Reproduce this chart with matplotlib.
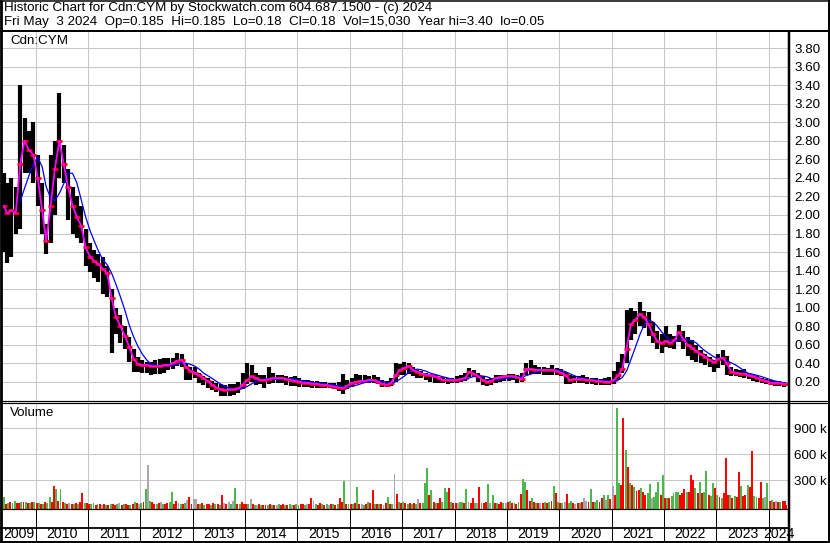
import datetime as dt
import numpy as np
import pandas as pd
import matplotlib
matplotlib.use("Agg")
import matplotlib.pyplot as plt
import matplotlib.dates as mdates
from matplotlib.lines import Line2D

plt.rcParams['font.family'] = ['Liberation Sans', 'DejaVu Sans']

# ---------------- data (monthly, May 2009 .. May 2024) ----------------
FIRST_MONTH = "2009-05-01"
HIGH = [
    2.45, 2.35, 2.40, 2.30, 3.40, 3.05, 2.90, 3.00,                          # 2009
    2.65, 2.35, 1.90, 2.65, 2.80, 3.31, 2.75, 2.50, 2.30, 2.20, 2.10, 1.85,  # 2010
    1.70, 1.62, 1.58, 1.55, 1.45, 1.20, 1.00, 0.92, 0.80, 0.68, 0.55, 0.47,  # 2011
    0.44, 0.42, 0.42, 0.44, 0.45, 0.46, 0.46, 0.46, 0.51, 0.50, 0.40, 0.36,  # 2012
    0.36, 0.30, 0.26, 0.24, 0.21, 0.19, 0.18, 0.17, 0.18, 0.18, 0.20, 0.30,  # 2013
    0.40, 0.38, 0.30, 0.28, 0.28, 0.36, 0.30, 0.28, 0.28, 0.26, 0.25, 0.26,  # 2014
    0.24, 0.22, 0.22, 0.21, 0.21, 0.20, 0.20, 0.19, 0.19, 0.20, 0.29, 0.22,  # 2015
    0.24, 0.29, 0.27, 0.27, 0.26, 0.28, 0.25, 0.22, 0.21, 0.24, 0.40, 0.39,  # 2016
    0.42, 0.40, 0.36, 0.33, 0.32, 0.30, 0.28, 0.27, 0.25, 0.25, 0.24, 0.24,  # 2017
    0.26, 0.28, 0.30, 0.35, 0.33, 0.30, 0.26, 0.23, 0.24, 0.27, 0.28, 0.28,  # 2018
    0.29, 0.29, 0.28, 0.30, 0.40, 0.44, 0.38, 0.36, 0.36, 0.35, 0.38, 0.35,  # 2019
    0.34, 0.31, 0.27, 0.26, 0.26, 0.27, 0.25, 0.24, 0.24, 0.23, 0.24, 0.25,  # 2020
    0.32, 0.42, 0.50, 0.98, 1.00, 0.96, 1.06, 0.97, 0.95, 0.85, 0.75, 0.72,  # 2021
    0.80, 0.72, 0.70, 0.81, 0.75, 0.68, 0.65, 0.60, 0.54, 0.50, 0.47, 0.44,  # 2022
    0.50, 0.54, 0.48, 0.36, 0.34, 0.33, 0.34, 0.30, 0.28, 0.26, 0.24, 0.23,  # 2023
    0.22, 0.21, 0.21, 0.20, 0.185,                                           # 2024
]
LOW = [
    1.60, 1.48, 1.55, 1.80, 1.85, 2.45, 2.45, 2.35,
    2.10, 1.80, 1.58, 1.70, 2.00, 2.40, 2.35, 1.95, 1.80, 1.75, 1.70, 1.45,
    1.38, 1.32, 1.28, 1.15, 1.12, 0.51, 0.72, 0.62, 0.55, 0.42, 0.31, 0.31,
    0.30, 0.30, 0.28, 0.29, 0.29, 0.30, 0.33, 0.34, 0.37, 0.36, 0.22, 0.22,
    0.24, 0.19, 0.17, 0.14, 0.11, 0.09, 0.05, 0.05, 0.05, 0.06, 0.08, 0.12,
    0.18, 0.20, 0.17, 0.18, 0.14, 0.18, 0.19, 0.19, 0.19, 0.17, 0.16, 0.16,
    0.15, 0.15, 0.15, 0.14, 0.14, 0.13, 0.13, 0.13, 0.12, 0.10, 0.07, 0.12,
    0.15, 0.18, 0.19, 0.19, 0.19, 0.19, 0.18, 0.15, 0.15, 0.16, 0.20, 0.28,
    0.28, 0.29, 0.26, 0.24, 0.24, 0.22, 0.20, 0.19, 0.19, 0.19, 0.18, 0.19,
    0.19, 0.20, 0.21, 0.25, 0.25, 0.20, 0.17, 0.16, 0.17, 0.19, 0.20, 0.21,
    0.21, 0.22, 0.19, 0.20, 0.27, 0.29, 0.29, 0.29, 0.28, 0.28, 0.28, 0.27,
    0.26, 0.18, 0.18, 0.19, 0.19, 0.19, 0.18, 0.18, 0.17, 0.17, 0.17, 0.17,
    0.18, 0.22, 0.30, 0.40, 0.65, 0.72, 0.80, 0.78, 0.70, 0.62, 0.55, 0.51,
    0.58, 0.57, 0.56, 0.63, 0.55, 0.48, 0.44, 0.42, 0.40, 0.38, 0.36, 0.31,
    0.35, 0.38, 0.27, 0.26, 0.26, 0.25, 0.24, 0.23, 0.21, 0.20, 0.19, 0.18,
    0.17, 0.16, 0.16, 0.15, 0.18,
]
CLOSE = [
    2.10, 2.02, 2.05, 2.02, 2.55, 2.80, 2.70, 2.65,
    2.40, 2.05, 1.72, 2.10, 2.50, 2.80, 2.55, 2.30, 2.10, 1.98, 1.88, 1.65,
    1.55, 1.50, 1.47, 1.42, 1.37, 1.10, 0.90, 0.80, 0.70, 0.58, 0.45, 0.39,
    0.38, 0.38, 0.37, 0.37, 0.37, 0.38, 0.38, 0.40, 0.43, 0.44, 0.36, 0.32,
    0.30, 0.27, 0.24, 0.21, 0.17, 0.14, 0.12, 0.11, 0.12, 0.12, 0.13, 0.17,
    0.22, 0.26, 0.24, 0.22, 0.22, 0.23, 0.24, 0.24, 0.24, 0.23, 0.22, 0.21,
    0.20, 0.19, 0.19, 0.18, 0.18, 0.17, 0.17, 0.16, 0.15, 0.14, 0.13, 0.16,
    0.19, 0.20, 0.21, 0.21, 0.22, 0.22, 0.20, 0.18, 0.17, 0.19, 0.27, 0.33,
    0.35, 0.37, 0.33, 0.31, 0.29, 0.28, 0.27, 0.26, 0.24, 0.22, 0.22, 0.22,
    0.22, 0.23, 0.24, 0.31, 0.29, 0.26, 0.22, 0.20, 0.21, 0.24, 0.25, 0.26,
    0.26, 0.26, 0.25, 0.23, 0.34, 0.34, 0.33, 0.33, 0.33, 0.33, 0.33, 0.32,
    0.30, 0.27, 0.22, 0.23, 0.23, 0.23, 0.22, 0.22, 0.21, 0.21, 0.20, 0.20,
    0.22, 0.27, 0.34, 0.56, 0.82, 0.87, 0.93, 0.90, 0.82, 0.72, 0.64, 0.62,
    0.64, 0.62, 0.65, 0.74, 0.66, 0.60, 0.57, 0.53, 0.50, 0.47, 0.44, 0.41,
    0.45, 0.46, 0.40, 0.31, 0.30, 0.29, 0.29, 0.27, 0.26, 0.24, 0.22, 0.21,
    0.19, 0.19, 0.19, 0.18, 0.18,
]
MA_LONG_MONTHS = 5

# volume, half-month bins, thousands of shares; colour code g=up r=down n=unchanged
VOL_2009 = [110, 30, 40, 55, 35, 60, 40, 35, 50, 45, 55, 40, 35, 50, 45]
COL_2009 = "grgrggrrgrgrgrg"
VOL_2010 = [35, 40, 25, 30, 45, 40, 110, 50, 238, 200, 62, 200, 45, 35, 30, 40, 25, 30, 35, 25, 45, 158, 40, 35]
COL_2010 = "rgrgrggrrgrgrgrnrgrgrrgr"
VOL_2011 = [30, 25, 35, 20, 25, 30, 20, 25, 15, 20, 30, 25, 20, 25, 35, 20, 25, 30, 20, 15, 25, 54, 35, 30]
COL_2011 = "rggrgrnrgrgrrgnrgrrgrgrn"
VOL_2012 = [35, 45, 200, 477, 60, 54, 30, 25, 35, 54, 30, 25, 35, 46, 165, 30, 62, 35, 25, 30, 40, 73, 108, 30]
COL_2012 = "grgngrrgrngrrggrrngrgnrr"
VOL_2013 = [85, 85, 30, 25, 35, 20, 30, 25, 20, 35, 25, 30, 20, 130, 35, 30, 54, 30, 62, 211, 30, 25, 54, 30]
COL_2013 = "nnrgrgrrgrgrgrnrngngrgrr"
VOL_2014 = [30, 25, 85, 25, 20, 15, 25, 20, 15, 20, 15, 25, 20, 15, 20, 25, 20, 27, 15, 20, 25, 15, 20, 25]
COL_2014 = "rgnrgnrgrrgrgrngrrgrgnrg"
VOL_2015 = [20, 25, 30, 20, 25, 30, 96, 62, 25, 20, 42, 25, 20, 27, 20, 25, 30, 20, 25, 96, 54, 292, 30, 25]
COL_2015 = "grrgnrrngrrgrgnrgrgrrgrg"
VOL_2016 = [30, 25, 35, 223, 30, 25, 20, 30, 54, 35, 188, 30, 27, 25, 30, 20, 35, 108, 30, 25, 377, 142, 46, 35]
COL_2016 = "rgrgrngrgrrgrgrnrgrgnrgr"
VOL_2017 = [54, 35, 30, 40, 25, 35, 30, 85, 40, 35, 269, 446, 130, 188, 50, 40, 35, 92, 45, 208, 170, 208, 50, 40]
COL_2017 = "grgrgrgnrgggrgrgrrgggrgr"
VOL_2018 = [40, 35, 45, 54, 40, 200, 45, 35, 92, 40, 35, 227, 40, 35, 45, 254, 40, 130, 35, 40, 30, 54, 35, 40]
COL_2018 = "rnggrgnrrgnrgrrgngrgrrgn"
VOL_2019 = [45, 62, 35, 40, 30, 45, 138, 315, 277, 188, 60, 92, 45, 40, 35, 40, 35, 45, 40, 50, 60, 235, 150, 50]
COL_2019 = "rgrgrgrggrrgrgrnrgrgrgrg"
VOL_2020 = [40, 35, 45, 138, 40, 62, 35, 30, 40, 35, 45, 92, 62, 50, 200, 45, 50, 73, 55, 92, 130, 70, 130, 80]
COL_2020 = "rgnrggrnrgrnnrgrggrrgngr"
VOL_2021 = [235, 130, 1138, 265, 246, 1023, 650, 458, 265, 246, 227, 180, 188, 208, 170, 130, 150, 254, 92, 110, 170, 277, 130, 362]
COL_2021 = "nrggrrgrgrgrrgrrggngggrg"
VOL_2022 = [100, 92, 90, 120, 150, 170, 170, 130, 150, 200, 160, 170, 362, 304, 208, 150, 277, 150, 170, 408, 130, 120, 265, 208]
COL_2022 = "rgrggggrrrgrrrgrgrggrggr"
VOL_2023 = [130, 110, 100, 150, 562, 130, 130, 100, 120, 110, 400, 238, 120, 130, 246, 227, 638, 120, 110, 100, 285, 100, 110, 265]
COL_2023 = "grgrrrgrgrrgrrgrrggrrgng"
VOL_2024 = [60, 70, 55, 65, 50, 45, 60, 62, 20]
COL_2024 = "rgrnrgrrr"

PRICE_TICKS = [0.20, 0.40, 0.60, 0.80, 1.00, 1.20, 1.40, 1.60, 1.80, 2.00,
               2.20, 2.40, 2.60, 2.80, 3.00, 3.20, 3.40, 3.60, 3.80]
VOL_TICKS = [300, 600, 900]
YEARS = list(range(2009, 2025))

TITLE1 = "Historic Chart for Cdn:CYM by Stockwatch.com 604.687.1500 - (c) 2024"
TITLE2 = ("Fri May  3 2024  Op=0.185  Hi=0.185  Lo=0.18  Cl=0.18  Vol=15,030  "
          "Year hi=3.40  lo=0.05")

# ---------------- build dates ----------------
months = pd.date_range(FIRST_MONTH, periods=len(CLOSE), freq="MS")
mdates_list = [m + pd.Timedelta(days=14) for m in months]
mdates_list[0] = months[0] + pd.Timedelta(days=23)
mdates_list[-1] = months[-1] + pd.Timedelta(days=1)
mx = mdates.date2num(mdates_list)

bin_dates = []
for m in months:
    bin_dates.append(m + pd.Timedelta(days=7))
    bin_dates.append(m + pd.Timedelta(days=22))
bin_dates = bin_dates[1:-1]
bin_dates[-1] = months[-1] + pd.Timedelta(days=1)
vols = (VOL_2009 + VOL_2010 + VOL_2011 + VOL_2012 + VOL_2013 + VOL_2014 + VOL_2015
        + VOL_2016 + VOL_2017 + VOL_2018 + VOL_2019 + VOL_2020 + VOL_2021
        + VOL_2022 + VOL_2023 + VOL_2024)
cols = (COL_2009 + COL_2010 + COL_2011 + COL_2012 + COL_2013 + COL_2014 + COL_2015
        + COL_2016 + COL_2017 + COL_2018 + COL_2019 + COL_2020 + COL_2021
        + COL_2022 + COL_2023 + COL_2024)
bx = mdates.date2num(bin_dates[:len(vols)])
cmap = {'g': '#4cb84c', 'r': '#ff0000', 'n': '#a8a8a8'}
bar_colors = [cmap[c] for c in cols]

ma_long = pd.Series(CLOSE).rolling(MA_LONG_MONTHS).mean()

# ---------------- layout helpers ----------------
W, H = 830, 543
fig = plt.figure(figsize=(W / 100, H / 100), dpi=100)
fig.patch.set_facecolor("white")


def box(x0, y0, x1, y1):
    return [x0 / W, 1 - y1 / H, (x1 - x0) / W, (y1 - y0) / H]


def px2date(x):
    return mdates.date2num(dt.datetime(2010, 1, 1)) + (x - 35.7) / 52.36 * 365.25


def fline(x0, y0, x1, y1, lw_px=1.0, color="black"):
    fig.add_artist(Line2D([x0 / W, x1 / W], [1 - y0 / H, 1 - y1 / H],
                          transform=fig.transFigure, color=color,
                          lw=lw_px * 0.72, solid_capstyle="butt"))


XL, XR = px2date(2.0), px2date(788.5)
year_x = [mdates.date2num(dt.datetime(y, 1, 1)) for y in YEARS[1:]]
GRID = "#c8c8c8"
FS = 9.6

# ---------------- price panel ----------------
axp = fig.add_axes(box(2, 31.5, 788.5, 400.5))
axp.set_xlim(XL, XR)
axp.set_ylim(0, 3.978)
axp.set_xticks(year_x)
axp.set_yticks(PRICE_TICKS)
axp.set_yticklabels(["%.2f" % v for v in PRICE_TICKS])
axp.yaxis.tick_right()
axp.tick_params(axis="y", length=0, pad=4.3, labelsize=FS)
axp.tick_params(axis="x", length=0, labelbottom=False)
axp.grid(True, color=GRID, lw=0.75)
axp.set_axisbelow(True)
for s in axp.spines.values():
    s.set_visible(False)

axp.vlines(mx, LOW, HIGH, color="black", lw=3.0, zorder=2)
axp.plot(mx, CLOSE, ls="none", marker="_", ms=4.2, mew=2.0, color="red", zorder=3)
axp.plot(mx, ma_long, color="#0000ff", lw=0.9, zorder=4)
axp.plot(mx, CLOSE, color="#ff00ff", lw=1.3, zorder=5)
axp.text(8 / 786.5, 1 - (41 - 31.5) / 369, "Cdn:CYM", transform=axp.transAxes,
         ha="left", va="center", fontsize=FS)

# ---------------- volume panel ----------------
axv = fig.add_axes(box(2, 403.5, 788.5, 509.3))
axv.set_xlim(XL, XR)
VB = -34.6
axv.set_ylim(VB, 1186)
axv.set_xticks(year_x)
axv.set_yticks(VOL_TICKS)
axv.set_yticklabels(["%d k" % v for v in VOL_TICKS])
axv.yaxis.tick_right()
axv.tick_params(axis="y", length=0, pad=4.3, labelsize=FS)
axv.tick_params(axis="x", length=0, labelbottom=False)
axv.grid(True, color=GRID, lw=0.75)
axv.set_axisbelow(True)
for s in axv.spines.values():
    s.set_visible(False)
axv.bar(bx, np.array(vols) - VB, bottom=VB, width=13.5, color=bar_colors,
        linewidth=0, zorder=2)
axv.text(8 / 786.5, 1 - (413 - 403.5) / 105.8, "Volume", transform=axv.transAxes,
         ha="left", va="center", fontsize=FS)

# ---------------- date strip ----------------
axb = fig.add_axes(box(2, 509.3, 788.5, 541.5))
axb.set_xlim(XL, XR)
axb.set_ylim(0, 1)
axb.axis("off")
axb.vlines(year_x, 0, 1, color="black", lw=0.72)
for y in YEARS:
    a = max(XL, mdates.date2num(dt.datetime(y, 1, 1)))
    b = min(XR, mdates.date2num(dt.datetime(y + 1, 1, 1)))
    axb.text((a + b) / 2, 0.22, str(y), ha="center", va="center", fontsize=FS + 0.6)

# ---------------- frame lines ----------------
fline(0, 0.5, 830, 0.5, 1.5)
fline(1, 0, 1, 543, 2.8)
fline(828.5, 0, 828.5, 543, 2)
fline(0, 542, 830, 542, 2)
fline(0, 30.7, 830, 30.7, 2)
fline(788.8, 30.7, 788.8, 543, 2.5)
fline(0, 400.8, 830, 400.8, 1.2)
fline(0, 403.3, 830, 403.3, 1.2)
fline(0, 509.3, 789, 509.3, 1.2)
fline(0, 527.6, 789, 527.6, 1.8)

fig.text(4 / W, 1 - 8 / H, TITLE1, ha="left", va="center", fontsize=FS)
fig.text(4 / W, 1 - 22 / H, TITLE2, ha="left", va="center", fontsize=FS)

fig.savefig("out.png", dpi=100, facecolor="white")
